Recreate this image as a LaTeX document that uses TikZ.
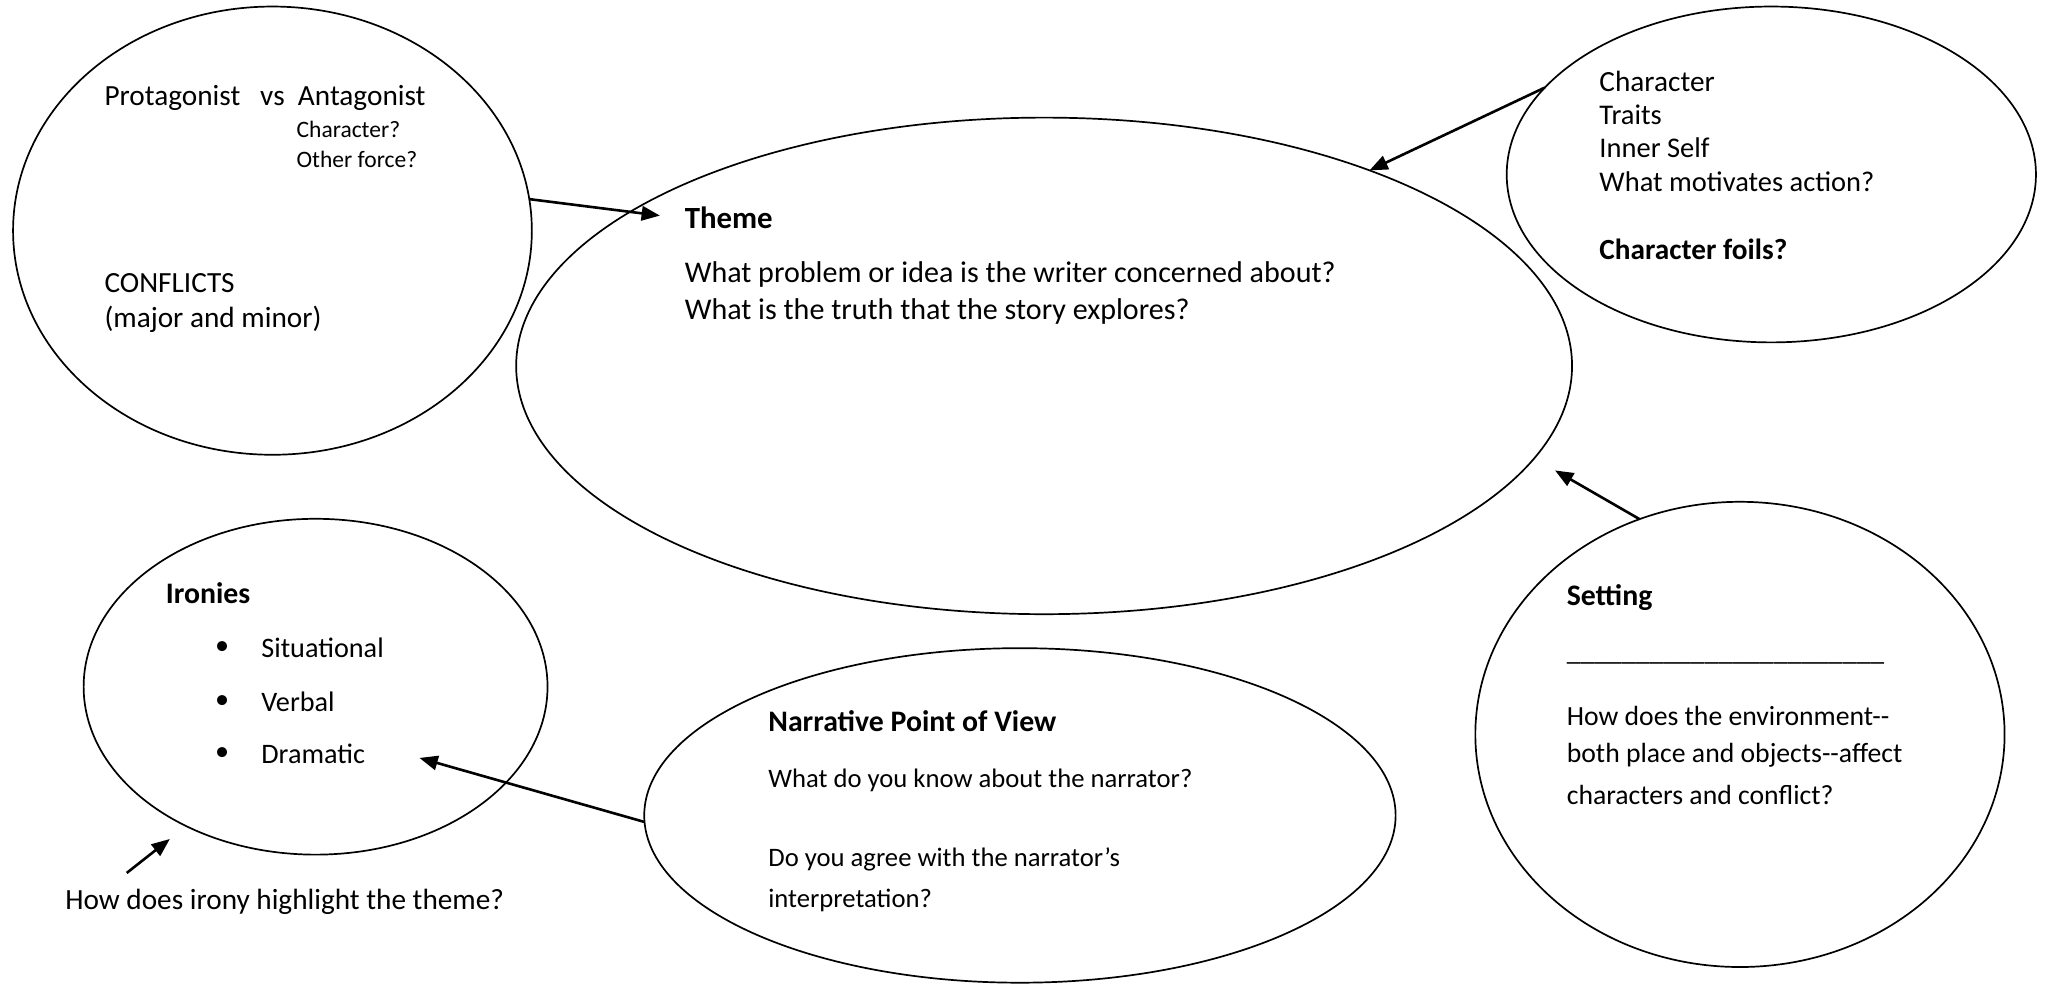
\documentclass[tikz,border=0pt]{standalone}
\usepackage{fontspec}
\setmainfont{Carlito}
\usetikzlibrary{arrows.meta,shapes.geometric}
\newcommand\mydd{-\kern0pt-}
\begin{document}
\begin{tikzpicture}[x=0.5pt,y=-0.5pt,
  bub/.style={draw,ellipse,line width=0.65pt,inner sep=0pt,outer sep=0pt},
  txt/.style={anchor=west,inner sep=0pt,outer sep=0pt,font=\fontsize{11.2}{13}\selectfont},
  ttl/.style={txt,font=\fontsize{11.4}{13}\selectfont\bfseries},
  thm/.style={txt,font=\fontsize{11.5}{13}\selectfont},
  chr/.style={txt,font=\fontsize{10.9}{13}\selectfont},
  nar/.style={txt,font=\fontsize{10.2}{12}\selectfont},
  set/.style={txt,font=\fontsize{10.6}{12}\selectfont},
  sml/.style={txt,font=\fontsize{9}{11}\selectfont},
  bul/.style={anchor=center,inner sep=0pt,font=\fontsize{10.8}{12}\selectfont},
  conn/.style={line width=1pt,-{Triangle[length=7pt,width=5.5pt]}}]
\useasboundingbox (0,0) rectangle (1568,756);

% bubbles
\node[bub,minimum width=198.5pt,minimum height=171.5pt] (conf) at (208.5,176.5) {};
\node[bub,minimum width=404pt,minimum height=190pt] (theme) at (799,280) {};
\node[bub,minimum width=202.5pt,minimum height=128.5pt] (charc) at (1355.5,133.5) {};
\node[bub,minimum width=202.5pt,minimum height=178pt] (sett) at (1331.5,562) {};
\node[bub,minimum width=177.5pt,minimum height=128.5pt] (iron) at (241.5,525.5) {};
\node[bub,minimum width=287.5pt,minimum height=128pt] (narr) at (780.5,624) {};

% conflict texts
\node[txt] (c1) at (80,75) {Protagonist\ \ \ vs\ \ Antagonist};
\node[sml] (c2) at (227,99) {Character?};
\node[sml] (c3) at (227,122) {Other force?};
\node[txt] (c4) at (80,217) {CONFLICTS};
\node[txt] (c5) at (80,244) {(major and minor)};

% theme texts
\node[ttl,font=\fontsize{11.8}{13}\selectfont\bfseries] (t1) at (524,167) {Theme};
\node[thm] (t2) at (524,210) {What problem or idea is the writer concerned about?};
\node[thm] (t3) at (524,238) {What is the truth that the story explores?};

% character texts
\node[txt] (h1) at (1224,62) {Character};
\node[chr] (h2) at (1224,88) {Traits};
\node[chr] (h3) at (1224,113) {Inner Self};
\node[chr] (h4) at (1224,139) {What motivates action?};
\node[ttl,font=\fontsize{11.2}{13}\selectfont\bfseries] (h5) at (1224,191) {Character foils?};

% setting texts
\node[ttl] (s1) at (1199,457) {Setting};
\node[set] (s2) at (1199,507) {\_\_\_\_\_\_\_\_\_\_\_\_\_\_\_\_\_\_\_\_\_\_\_};
\node[set] (s3) at (1199,548) {How does the environment\mydd};
\node[set] (s4) at (1199,578) {both place and objects\mydd affect};
\node[set] (s5) at (1199,608) {characters and conflict?};

% ironies texts
\node[ttl] (i1) at (127,454) {Ironies};
\node[bul] (b1) at (170,496) {•};
\node[bul] (b2) at (170,537) {•};
\node[bul] (b3) at (170,577) {•};
\node[set,font=\fontsize{10.8}{12}\selectfont] (i2) at (200,496) {Situational};
\node[set,font=\fontsize{10.8}{12}\selectfont] (i3) at (200,537) {Verbal};
\node[set,font=\fontsize{10.8}{12}\selectfont] (i4) at (200,577) {Dramatic};
\node[txt] (q) at (50,690) {How does irony highlight the theme?};

% narrative texts
\node[ttl] (n1) at (588,552) {Narrative Point of View};
\node[nar] (n2) at (588,597) {What do you know about the narrator?};
\node[nar] (n3) at (588,658) {Do you agree with the narrator’s};
\node[nar] (n4) at (588,689) {interpretation?};

% arrow end points
\coordinate (tTip) at (505,165);
\coordinate (sTip) at (1190,360);
\coordinate (nTip) at (321,580);
\coordinate (qStart) at (97,668);
\coordinate (qTip) at (130,642);

% connectors
\draw[conn] (conf.7) -- (tTip);
\draw[conn] (charc.159) -- (theme.31);
\draw[conn] (sett.115) -- (sTip);
\draw[conn] (narr.181) -- (nTip);
\draw[conn] (qStart) -- (qTip);
\end{tikzpicture}
\end{document}
